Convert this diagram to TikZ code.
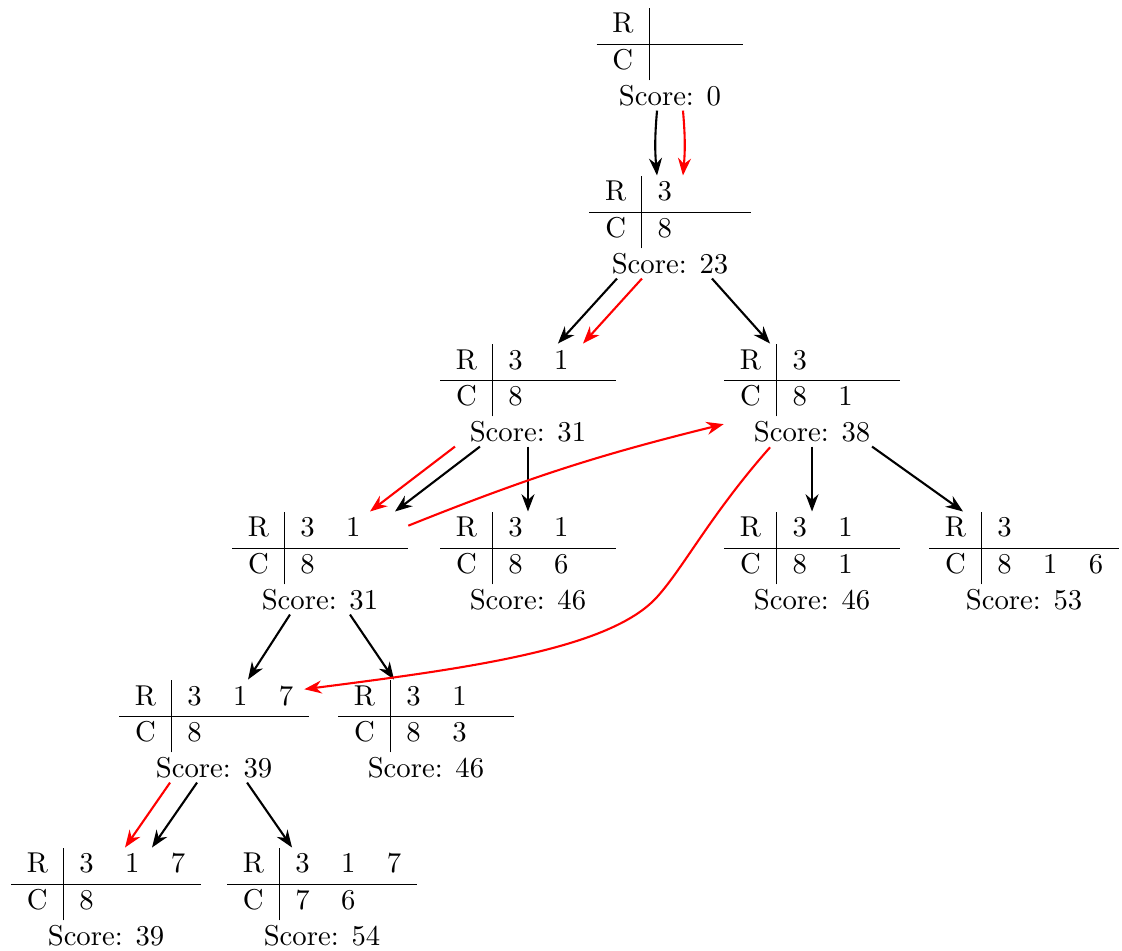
\documentclass[tikz,border=0pt,11pt]{standalone}
\usepackage{amsmath}
\usepackage{xcolor}
\usepackage{tikz}
\usetikzlibrary{arrows.meta}
\newcommand{\board}[3]{\begin{tabular}{c|ccc}R#1\\\hline C#2\\\multicolumn{4}{c}{Score: #3}\end{tabular}}

\begin{document}
\begin{tikzpicture}[>=Stealth,grid/.style={inner sep=0pt},link/.style={->,thick},trail/.style={->,thick,red}]
\useasboundingbox (0,0) rectangle (15.05,-12.743);
\node[grid] (n0) at (8.987,-0.832) {\board{&&&}{&&&}{0}};
\node[grid] (n1) at (8.987,-3.085) {\board{&3&&}{&8&&}{23}};
\node[grid] (n2) at (7.082,-5.339) {\board{&3&1&}{&8&&}{31}};
\node[grid] (n3) at (10.892,-5.339) {\board{&3&&}{&8&1&}{38}};
\node[grid] (n4) at (4.292,-7.592) {\board{&3&1&}{&8&&}{31}};
\node[grid] (n5) at (7.082,-7.592) {\board{&3&1&}{&8&6&}{46}};
\node[grid] (n6) at (10.892,-7.592) {\board{&3&1&}{&8&1&}{46}};
\node[grid] (n7) at (13.736,-7.592) {\board{&3&&}{&8&1&6}{53}};
\node[grid] (n8) at (2.871,-9.846) {\board{&3&1&7}{&8&&}{39}};
\node[grid] (n9) at (5.714,-9.846) {\board{&3&1&}{&8&3&}{46}};
\node[grid] (n10) at (1.422,-12.099) {\board{&3&1&7}{&8&&}{39}};
\node[grid] (n11) at (4.319,-12.099) {\board{&3&1&7}{&7&6&}{54}};

\draw[link]([xshift=-0.174cm,yshift=0.08cm]n0.south) to[bend right=5] ([xshift=-0.174cm]n1.north);
\draw[link]([xshift=-0.711cm,yshift=0.08cm]n1.south)--([xshift=0.402cm]n2.north);
\draw[link]([xshift=0.563cm,yshift=0.08cm]n1.south)--([xshift=-0.563cm]n3.north);
\draw[link]([xshift=-0.644cm,yshift=0.08cm]n2.south)--([xshift=1.006cm]n4.north);
\draw[link]([yshift=0.08cm]n2.south)--(n5.north);
\draw[link]([yshift=0.08cm]n3.south)--(n6.north);
\draw[link]([xshift=0.805cm,yshift=0.08cm]n3.south)--([xshift=-0.818cm]n7.north);
\draw[link]([xshift=-0.402cm,yshift=0.08cm]n4.south)--([xshift=0.456cm]n8.north);
\draw[link]([xshift=0.402cm,yshift=0.08cm]n4.south)--([xshift=-0.429cm]n9.north);
\draw[link]([xshift=-0.228cm,yshift=0.08cm]n8.south)--([xshift=0.617cm]n10.north);
\draw[link]([xshift=0.443cm,yshift=0.08cm]n8.south)--([xshift=-0.402cm]n11.north);

\draw[trail]([xshift=0.174cm,yshift=0.08cm]n0.south) to[bend left=5] ([xshift=0.174cm]n1.north);
\draw[trail]([xshift=-0.376cm,yshift=0.08cm]n1.south)--([xshift=0.738cm]n2.north);
\draw[trail]([xshift=-0.979cm,yshift=0.08cm]n2.south)--([xshift=0.671cm]n4.north);
\draw[trail]([yshift=-0.19cm]n4.north east) to[bend left=4] ([yshift=-0.35cm]n3.west);
\draw[trail]([xshift=-0.563cm,yshift=0.07cm]n3.south) .. controls (9.537,-6.895) and (9.175,-7.606) .. (8.813,-8.008)
 .. controls (8.182,-8.706) and (6.305,-8.960) .. ([xshift=-0.07cm,yshift=-0.13cm]n8.north east);
\draw[trail]([xshift=-0.590cm,yshift=0.08cm]n8.south)--([xshift=0.255cm]n10.north);
\end{tikzpicture}
\end{document}
